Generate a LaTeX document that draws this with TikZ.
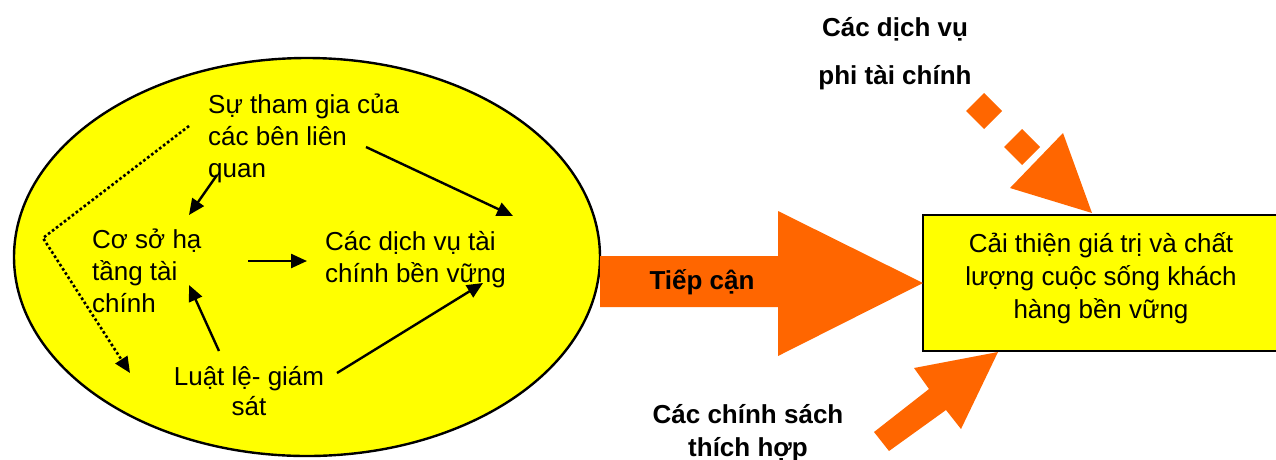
\documentclass[tikz,border=0pt]{standalone}
\usepackage{fontspec}
\setmainfont{Liberation Sans}
\usetikzlibrary{arrows.meta,shapes.geometric}
\definecolor{org}{HTML}{FF6600}
\definecolor{yel}{HTML}{FFFF00}
\begin{document}
\begin{tikzpicture}[x=1pt,y=-1pt,
  txt/.style={font=\fontsize{26}{32}\selectfont, inner sep=0pt, align=left, anchor=base west},
  ctxt/.style={font=\fontsize{26}{33}\selectfont, inner sep=0pt, align=center, anchor=base},
  btxt/.style={font=\fontsize{26}{33}\selectfont\bfseries, inner sep=0pt, align=center, anchor=base},
  conn/.style={draw=black, line width=2.4pt, -{Triangle[length=16pt,width=14pt]}},
  dotline/.style={draw=black, line width=2.6pt, dash pattern=on 2.6pt off 2.4pt, -{Triangle[length=16pt,width=14pt,sep=0pt]}},
  oarrow/.style={fill=org, draw=none}]
\useasboundingbox (0,0) rectangle (1276,459);

% big oval
\node[ellipse, draw=black, line width=2.4pt, fill=yel, minimum width=586pt, minimum height=398pt, inner sep=0pt] (oval) at (307,257) {};

% result box
\node[rectangle, draw=black, line width=2.6pt, fill=yel, minimum width=356pt, minimum height=136pt, inner sep=0pt] (box) at (1101,283) {};
\node[ctxt] (boxtext) at (1101,318) {Cải thiện giá trị và chất\\lượng cuộc sống khách\\hàng bền vững};

% texts in the oval
\node[txt] (stake) at (208,177) {Sự tham gia của\\các bên liên\\quan};
\node[txt] (infra) at (92,312) {Cơ sở hạ\\tầng tài\\chính};
\node[txt] (serv) at (325,282) {Các dịch vụ tài\\chính bền vững};
\node[ctxt, font=\fontsize{26}{30}\selectfont] (law) at (249,415) {Luật lệ- giám\\sát};

% arrow endpoints
\coordinate (a1s) at (217,175); \coordinate (a1e) at (189,215);
\coordinate (a2s) at (366,147); \coordinate (a2e) at (513,216);
\coordinate (a3s) at (248,261); \coordinate (a3e) at (307,261);
\coordinate (a4s) at (219,351); \coordinate (a4e) at (189,285);
\coordinate (a5s) at (337,373); \coordinate (a5e) at (483,283);
\coordinate (d0) at (189,126); \coordinate (d1) at (43,238); \coordinate (d2) at (130,373);

\draw[conn] (a1s) -- (a1e);
\draw[conn] (a2s) -- (a2e);
\draw[conn] (a3s) -- (a3e);
\draw[conn] (a4s) -- (a4e);
\draw[conn] (a5s) -- (a5e);
\draw[dotline] (d0) -- (d1) -- (d2);

% big block arrow "Tiếp cận"
\fill[oarrow] (600,256) -- (778,256) -- (778,211) -- (923,283) -- (778,356) -- (778,307) -- (600,307) -- cycle;
\node[btxt] (access) at (702,289) {Tiếp cận};

% top-right dashed orange arrow
\fill[oarrow] (984,93) -- (1002,111) -- (984,129) -- (966,111) -- cycle;
\fill[oarrow] (1022,129) -- (1040,147) -- (1022,165) -- (1004,147) -- cycle;
\fill[oarrow] (1063,133) -- (1092,213) -- (1010,188) -- cycle;
\node[btxt, font=\fontsize{26}{48}\selectfont\bfseries] (nonfin) at (895,84) {Các dịch vụ\\phi tài chính};

% bottom orange arrow
\fill[oarrow] (998,352) -- (961,429) -- (946,410) -- (889,451) -- (874,432) -- (929,389) -- (914,368) -- cycle;
\node[btxt] (policy) at (748,456) {Các chính sách\\thích hợp};
\end{tikzpicture}
\end{document}
